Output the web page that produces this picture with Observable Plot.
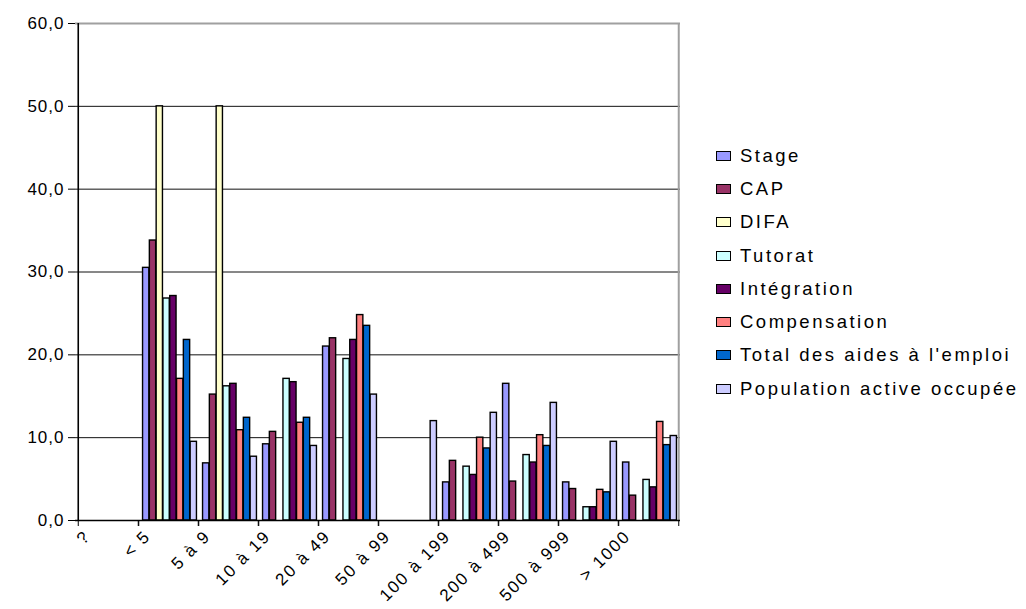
<!DOCTYPE html>
<html><head><meta charset="utf-8">
<script src="https://cdn.jsdelivr.net/npm/d3@7"></script>
<script src="https://cdn.jsdelivr.net/npm/@observablehq/plot@0.6"></script>
<style>
body{margin:0;background:#fff;font-family:"Liberation Sans",Arial,sans-serif;}
#wrap{position:relative;width:1026px;height:609px;overflow:hidden;}
#chart{position:absolute;left:0;top:0;}
#chart svg text{letter-spacing:1px;}
#chart svg g.xlab text{letter-spacing:1.8px;}
#legend{position:absolute;left:716px;top:139px;}
.item{display:flex;align-items:center;height:33.3px;font-size:18.5px;letter-spacing:2.5px;white-space:nowrap;color:#000;}
.sw{width:15px;height:10px;border:1.5px solid #000;box-sizing:border-box;margin-right:9px;flex:none;}
</style></head><body><div id="wrap"><div id="chart"></div><div id="legend"></div></div>
<script>
const categories = ["?", "< 5", "5 à 9", "10 à 19", "20 à 49", "50 à 99", "100 à 199", "200 à 499", "500 à 999", "> 1000"];
const series = ["Stage", "CAP", "DIFA", "Tutorat", "Intégration", "Compensation", "Total des aides à l'emploi", "Population active occupée"];
const colors = ["#9999FF", "#993366", "#FFFFCC", "#CCFFFF", "#660066", "#FF8080", "#0066CC", "#CCCCFF"];
const stage        = [null, 30.5, 6.9, 9.2, 21.0, 0, 4.6, 16.5, 4.6, 7.0];
const cap          = [null, 33.8, 15.2, 10.7, 22.0, 0, 7.2, 4.7, 3.8, 3.0];
const difa         = [null, 50.0, 50.0, 0, 0, 0, 0, 0, 0, 0];
const tutorat      = [null, 26.8, 16.2, 17.1, 19.5, 0, 6.5, 7.9, 1.6, 4.9];
const integration  = [null, 27.1, 16.5, 16.7, 21.8, 0, 5.5, 7.0, 1.6, 4.0];
const compensation = [null, 17.1, 10.9, 11.8, 24.8, 0, 10.0, 10.3, 3.7, 11.9];
const totalAides   = [null, 21.8, 12.4, 12.4, 23.5, 0, 8.7, 9.0, 3.4, 9.1];
const population   = [null, 9.5, 7.7, 9.0, 15.2, 12.0, 13.0, 14.2, 9.5, 10.2];
const yTicks = [0, 10, 20, 30, 40, 50, 60];

const values = [stage, cap, difa, tutorat, integration, compensation, totalAides, population];
const table = [];
series.forEach((s, j) => values[j].forEach((v, i) => {
  if (v != null && v > 0) table.push({cat: categories[i], series: s, value: v});
}));

const W = 700, ML = 75, MR = 20;
const step = (W - ML - MR) / categories.length;
const barW = 6.8;
const fmt = d => d3.format(".1f")(d).replace(".", ",");

const barMarks = series.map((s, j) => Plot.barY(table.filter(d => d.series === s), {
  x: "cat", y: "value", fill: colors[j], stroke: "#000", strokeWidth: 1.4,
  insetLeft: (step - barW) / 2, insetRight: (step - barW) / 2,
  dx: (j - 3.5) * barW + 1.5
}));

const chart = Plot.plot({
  width: W, height: 609,
  marginLeft: ML, marginRight: MR, marginTop: 23, marginBottom: 89,
  style: {fontFamily: "'Liberation Sans', Arial, sans-serif", fontSize: "17px", color: "#000", background: "#fff"},
  x: {domain: categories, padding: 0},
  y: {domain: [0, 60]},
  marks: [
    Plot.gridY({ticks: [10, 20, 30, 40, 50], stroke: "#111", strokeOpacity: 1, strokeWidth: 1}),
    Plot.ruleY([60], {stroke: "#a0a0a0", strokeWidth: 2}),
    Plot.ruleX([categories[categories.length - 1]], {stroke: "#a0a0a0", strokeWidth: 2, dx: step / 2}),
    ...barMarks,
    Plot.ruleY([0], {stroke: "#000", strokeWidth: 1.3}),
    Plot.ruleX([categories[0]], {stroke: "#000", strokeWidth: 1.6, dx: -step / 2}),
    Plot.axisY({ticks: yTicks, tickFormat: fmt, tickSize: 7, tickPadding: 4, label: null, fontSize: 17, stroke: "#000"}),
    Plot.axisX({tickSize: 6, tickFormat: () => "", dx: -step / 2, label: null, stroke: "#000"}),
    Plot.axisX({tickSize: 6, tickFormat: () => "", dx: step / 2, label: null, stroke: "#000"}),
    Plot.axisX({tickSize: 0, tickPadding: 13, tickRotate: -45, dx: -21, label: null, fontSize: 17, className: "xlab"})
  ]
});
document.getElementById("chart").appendChild(chart);

const legend = document.getElementById("legend");
series.forEach((s, j) => {
  const it = document.createElement("div");
  it.className = "item";
  const sw = document.createElement("span");
  sw.className = "sw";
  sw.style.background = colors[j];
  const tx = document.createElement("span");
  tx.textContent = s;
  it.appendChild(sw); it.appendChild(tx);
  legend.appendChild(it);
});
</script></body></html>
